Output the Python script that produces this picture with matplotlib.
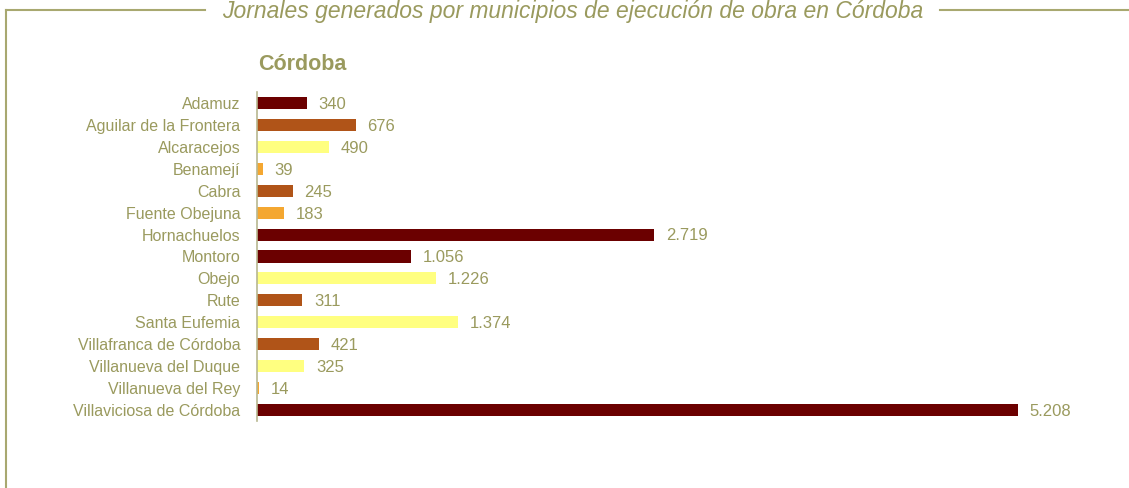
import matplotlib.pyplot as plt
from matplotlib.lines import Line2D

plt.rcParams['font.family'] = ['Liberation Sans', 'DejaVu Sans']

municipios = ["Adamuz", "Aguilar de la Frontera", "Alcaracejos", "Benamejí", "Cabra",
              "Fuente Obejuna", "Hornachuelos", "Montoro", "Obejo", "Rute",
              "Santa Eufemia", "Villafranca de Córdoba", "Villanueva del Duque",
              "Villanueva del Rey", "Villaviciosa de Córdoba"]
jornales = [340, 676, 490, 39, 245, 183, 2719, 1056, 1226, 311, 1374, 421, 325, 14, 5208]
colores = ["#6B0000", "#B05418", "#FFFF80", "#F4A731", "#B05418", "#F4A731", "#6B0000",
           "#6B0000", "#FFFF80", "#B05418", "#FFFF80", "#B05418", "#FFFF80", "#F4A731", "#6B0000"]

olive = "#9A9A5E"
W, H = 1129, 488
fig = plt.figure(figsize=(W / 100, H / 100), dpi=100)

# marco
fig.add_artist(Line2D([6 / W, 6 / W], [0, 1 - 10 / H], color="#A8A870", lw=1.5))
fig.add_artist(Line2D([6 / W, 205 / W], [1 - 10 / H, 1 - 10 / H], color="#A8A870", lw=1.5))
fig.add_artist(Line2D([940 / W, 1], [1 - 10 / H, 1 - 10 / H], color="#A8A870", lw=1.5))
fig.text(573 / W, 1 - 18 / H, "Jornales generados por municipios de ejecución de obra en Córdoba",
         ha="center", va="baseline", fontsize=16.5, style="italic", color=olive)
fig.text(258 / W, 1 - 65 / H, "Córdoba", ha="left", va="center", fontsize=15.5,
         fontweight="bold", color=olive)

xmax = 5800
ax_w = xmax * 761 / 5208
ax = fig.add_axes([257 / W, 1 - 421 / H, ax_w / W, 329 / H])
y = range(len(municipios))
ax.barh(y, jornales, height=0.55, color=colores)
ax.set_xlim(0, xmax)
ax.set_ylim(len(municipios) - 0.5, -0.5)
ax.set_yticks(list(y))
ax.set_yticklabels(municipios, fontsize=11.5, color=olive)
ax.tick_params(axis="y", length=0, pad=12)
ax.set_xticks([])
for s in ["top", "right", "bottom"]:
    ax.spines[s].set_visible(False)
ax.spines["left"].set_color("#B8B890")
ax.spines["left"].set_linewidth(1.2)

for i, v in enumerate(jornales):
    txt = f"{v:,}".replace(",", ".")
    ax.annotate(txt, (v, i), xytext=(8.5, -1), textcoords="offset points",
                va="center", ha="left", fontsize=12, color=olive)

fig.savefig("out.png", dpi=100)
